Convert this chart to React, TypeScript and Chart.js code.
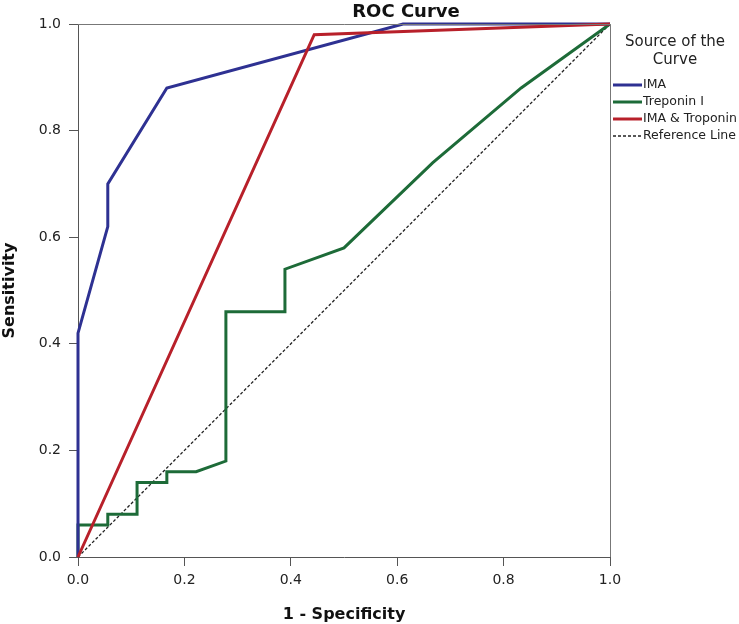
import React, { useEffect, useRef } from "react";
import { Chart, registerables } from "chart.js";

Chart.register(...registerables);

const chartTitle = "ROC Curve";
const xAxisTitle = "1 - Specificity";
const yAxisTitle = "Sensitivity";
const legendTitle = ["Source of the", "Curve"];

const seriesNames = ["IMA", "Treponin I", "IMA & Troponin", "Reference Line"];
const seriesColors = ["#2e3192", "#1d6b38", "#b8202a", "#222222"];

const fprIMA = [0, 0, 0.056, 0.056, 0.167, 0.611, 1];
const tprIMA = [0, 0.42, 0.62, 0.7, 0.88, 1, 1];

const fprTrop = [0, 0, 0.056, 0.056, 0.111, 0.111, 0.167, 0.167, 0.222, 0.278, 0.278, 0.389, 0.389, 0.5, 0.667, 0.833, 1];
const tprTrop = [0, 0.06, 0.06, 0.08, 0.08, 0.14, 0.14, 0.16, 0.16, 0.18, 0.46, 0.46, 0.54, 0.58, 0.74, 0.88, 1];

const fprCombo = [0, 0.444, 1];
const tprCombo = [0, 0.98, 1];

const fprRef = [0, 1];
const tprRef = [0, 1];

const FONT = "'DejaVu Sans', 'Liberation Sans', Arial, sans-serif";

const toPts = (xs: number[], ys: number[]) => xs.map((x, i) => ({ x, y: ys[i] }));

const decorPlugin = {
  id: "decor",
  afterDraw(chart: any) {
    const { ctx, chartArea } = chart;
    ctx.save();
    // top & right frame
    ctx.strokeStyle = "#777";
    ctx.lineWidth = 1;
    ctx.beginPath();
    ctx.moveTo(chartArea.left, chartArea.top + 0.5);
    ctx.lineTo(chartArea.right + 0.5, chartArea.top + 0.5);
    ctx.lineTo(chartArea.right + 0.5, chartArea.bottom);
    ctx.stroke();

    // title
    ctx.fillStyle = "#111";
    ctx.font = `bold 18px ${FONT}`;
    ctx.textAlign = "center";
    ctx.textBaseline = "alphabetic";
    ctx.fillText(chartTitle, 406, 17);

    // legend title
    ctx.font = `15px ${FONT}`;
    ctx.fillStyle = "#222";
    ctx.textBaseline = "middle";
    ctx.fillText(legendTitle[0], 675, 42);
    ctx.fillText(legendTitle[1], 675, 60);

    // legend items
    const ys = [85, 102, 119, 136];
    ctx.font = `12.5px ${FONT}`;
    ctx.textAlign = "left";
    seriesNames.forEach((name, i) => {
      ctx.beginPath();
      ctx.strokeStyle = seriesColors[i];
      if (i === 3) {
        ctx.lineWidth = 1.3;
        ctx.setLineDash([3, 2]);
      } else {
        ctx.lineWidth = 3;
        ctx.setLineDash([]);
      }
      ctx.moveTo(613, ys[i]);
      ctx.lineTo(642, ys[i]);
      ctx.stroke();
      ctx.setLineDash([]);
      ctx.fillStyle = "#222";
      ctx.fillText(name, 643, ys[i]);
    });
    ctx.restore();
  },
};

export default function App() {
  const ref = useRef<HTMLCanvasElement | null>(null);

  useEffect(() => {
    document.body.style.margin = "0";
    const canvas = ref.current;
    if (!canvas) return;
    const chart = new Chart(canvas, {
      type: "line",
      data: {
        datasets: [
          {
            label: seriesNames[0],
            data: toPts(fprIMA, tprIMA),
            borderColor: seriesColors[0],
            borderWidth: 3,
            pointRadius: 0,
            tension: 0,
            fill: false,
            clip: false as any,
            order: 1,
          },
          {
            label: seriesNames[1],
            data: toPts(fprTrop, tprTrop),
            borderColor: seriesColors[1],
            borderWidth: 3,
            pointRadius: 0,
            tension: 0,
            fill: false,
            clip: false as any,
            order: 2,
          },
          {
            label: seriesNames[2],
            data: toPts(fprCombo, tprCombo),
            borderColor: seriesColors[2],
            borderWidth: 3,
            pointRadius: 0,
            tension: 0,
            fill: false,
            clip: false as any,
            order: 0,
          },
          {
            label: seriesNames[3],
            data: toPts(fprRef, tprRef),
            borderColor: seriesColors[3],
            borderWidth: 1.3,
            borderDash: [3, 2],
            pointRadius: 0,
            tension: 0,
            fill: false,
            clip: false as any,
            order: 3,
          },
        ],
      },
      options: {
        animation: false,
        responsive: false,
        maintainAspectRatio: false,
        layout: { padding: { top: 24, right: 129, bottom: 0, left: 0 } },
        plugins: {
          legend: { display: false },
          tooltip: { enabled: false },
          title: { display: false },
        },
        scales: {
          x: {
            type: "linear",
            min: 0,
            max: 1,
            afterFit: (s: any) => {
              s.height = 67;
            },
            ticks: {
              stepSize: 0.2,
              padding: 6,
              color: "#222",
              font: { family: FONT, size: 14 },
              callback: (v: any) => Number(v).toFixed(1),
            },
            grid: {
              drawOnChartArea: false,
              drawTicks: true,
              tickLength: 9,
              color: "#555",
            },
            border: { display: true, color: "#555", width: 1 },
            title: {
              display: true,
              text: xAxisTitle,
              color: "#111",
              font: { family: FONT, size: 16, weight: "bold" },
              padding: { top: 0, bottom: 0 },
            },
          },
          y: {
            type: "linear",
            min: 0,
            max: 1,
            afterFit: (s: any) => {
              s.width = 78;
            },
            ticks: {
              stepSize: 0.2,
              padding: 8,
              color: "#222",
              font: { family: FONT, size: 14 },
              callback: (v: any) => Number(v).toFixed(1),
            },
            grid: {
              drawOnChartArea: false,
              drawTicks: true,
              tickLength: 9,
              color: "#555",
            },
            border: { display: true, color: "#555", width: 1 },
            title: {
              display: true,
              text: yAxisTitle,
              color: "#111",
              font: { family: FONT, size: 16, weight: "bold" },
              padding: { top: 0, bottom: 0 },
            },
          },
        },
      },
      plugins: [decorPlugin],
    });
    return () => chart.destroy();
  }, []);

  return (
    <div style={{ width: 739, height: 624 }}>
      <canvas ref={ref} width={739} height={624} style={{ display: "block", width: 739, height: 624 }} />
    </div>
  );
}
